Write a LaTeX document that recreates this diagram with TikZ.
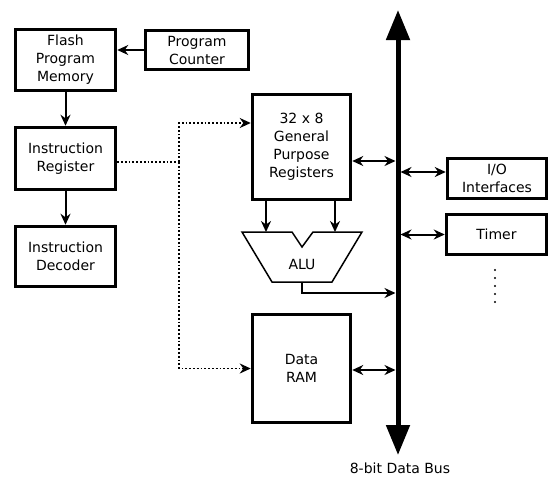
\documentclass[tikz,border=0pt]{standalone}
\usepackage{fontspec}
\setmainfont{DejaVu Sans}
\usetikzlibrary{arrows.meta}
\begin{document}
\begin{tikzpicture}[x=1pt,y=-1pt,
  block/.style={draw,line width=3.5pt,align=center,inner sep=0pt,font=\fontsize{14}{18}\selectfont},
  link/.style={line width=2pt,-{Stealth[length=11pt,width=10pt]}},
  both/.style={line width=2pt,{Stealth[length=11pt,width=10pt]}-{Stealth[length=11pt,width=10pt]}},
  ctrl/.style={line width=1.8pt,dotted,-{Stealth[length=11pt,width=10pt]}}]
  \useasboundingbox (0,0) rectangle (560,480);
  \node[block,minimum width=100pt,minimum height=61pt] (flash) at (65.5,60) {Flash\\Program\\Memory};
  \node[block,minimum width=103pt,minimum height=39pt] (pc) at (197,50) {Program\\Counter};
  \node[block,minimum width=100pt,minimum height=62pt] (ir) at (65.5,158.5) {Instruction\\Register};
  \node[block,minimum width=100pt,minimum height=60pt] (id) at (65.5,256.5) {Instruction\\Decoder};
  \node[block,minimum width=98pt,minimum height=105pt] (regs) at (301.5,147) {32 x 8\\General\\Purpose\\Registers};
  \node[block,minimum width=98pt,minimum height=108pt] (ram) at (301.5,368.5) {Data\\RAM};
  \node[block,minimum width=99pt,minimum height=40pt] (io) at (497,178.5) {I/O\\Interfaces};
  \node[block,minimum width=100pt,minimum height=40pt] (timer) at (496.5,234.5) {Timer};
  \draw[link] (pc.west) -- (pc.west -| flash.east);
  \draw[link] (flash) -- (ir);
  \draw[link] (ir) -- (id);
  \coordinate (split) at (179,162);
  \draw[line width=1.8pt,dotted] (ir.east |- split) -- (split);
  \draw[ctrl] (split) |- ([yshift=24pt]regs.west);
  \draw[ctrl] (split) |- (ram.west);
  % ALU
  \coordinate (alu in1) at (266,232);
  \coordinate (alu in2) at (335,232);
  \coordinate (alu out) at (302,282);
  \draw[line width=1.5pt] (242,232) -- (292,232) -- (302,247) -- (313,232) -- (362,232)
    -- (332,282) -- (272,282) -- cycle;
  \node[font=\fontsize{14}{18}\selectfont] (alu) at (302,264) {ALU};
  \draw[link] (regs.south -| alu in1) -- (alu in1);
  \draw[link] (regs.south -| alu in2) -- (alu in2);
  % data bus
  \coordinate (bus top) at (398,10);
  \coordinate (bus bot) at (398,455);
  \draw[line width=5pt,{Triangle[length=30pt,width=23pt]}-{Triangle[length=30pt,width=23pt]}] (bus top) -- (bus bot);
  \node[font=\fontsize{14}{18}\selectfont] (bus label) at (400,468) {8-bit Data Bus};
  \coordinate (alu bend) at (302,293);
  \draw[link,shorten >=2.5pt] (alu out) -- (alu bend) -- (alu bend -| bus top);
  \draw[both,shorten >=2.5pt] ([yshift=-14pt]regs.east) -- ([yshift=-14pt]regs.east -| bus top);
  \draw[both,shorten >=2.5pt] ([yshift=-1.5pt]ram.east) -- ([yshift=-1.5pt]ram.east -| bus top);
  \draw[both,shorten <=2.5pt] ([yshift=6.5pt]io.west -| bus top) -- ([yshift=6.5pt]io.west);
  \draw[both,shorten <=2.5pt] (timer.west -| bus top) -- (timer.west);
  \foreach \y in {270,278,...,302}
    \fill (495,\y) circle (1.1pt);
\end{tikzpicture}
\end{document}
